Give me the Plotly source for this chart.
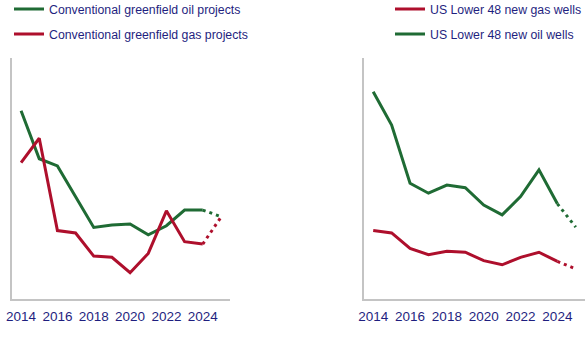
import plotly.graph_objects as go

# Index values by year (2025 = outlook, drawn dotted)
years = list(range(2014, 2025))
year_outlook = 2025

oil_projects = [78.1, 58.2, 55.2, 42.4, 29.7, 30.7, 31.1, 26.6, 30.4, 36.9, 36.9]
oil_projects_2025 = 34.2
gas_projects = [56.6, 66.7, 28.4, 27.4, 17.8, 17.3, 10.9, 18.9, 36.6, 23.8, 22.8]
gas_projects_2025 = 33.9

gas_wells = [28.4, 27.4, 21.0, 18.4, 19.8, 19.4, 15.9, 14.2, 17.3, 19.4, 15.6]
gas_wells_2025 = 12.5
oil_wells = [86.0, 72.2, 48.0, 43.9, 47.3, 46.2, 39.0, 34.9, 42.5, 53.6, 39.5]
oil_wells_2025 = 29.8

tick_years = [2014, 2016, 2018, 2020, 2022, 2024]

GREEN = "#1f6b34"
RED = "#ae0f2c"
NAVY = "#1f1f7f"
AXIS_GREY = "#c4c4c4"
FONT = "Liberation Sans, Arial, sans-serif"

fig = go.Figure()


def add_series(name, values, outlook, color, xa, ya, legend):
    fig.add_trace(go.Scatter(
        x=years, y=values, mode="lines", name=name,
        line=dict(color=color, width=3), xaxis=xa, yaxis=ya,
        legend=legend, legendgroup=name + xa,
    ))
    fig.add_trace(go.Scatter(
        x=[years[-1], year_outlook], y=[values[-1], outlook], mode="lines",
        line=dict(color=color, width=3, dash="3px,4px"), xaxis=xa, yaxis=ya,
        showlegend=False, legend=legend, legendgroup=name + xa,
    ))


add_series("Conventional greenfield oil projects", oil_projects, oil_projects_2025,
           GREEN, "x", "y", "legend")
add_series("Conventional greenfield gas projects", gas_projects, gas_projects_2025,
           RED, "x", "y", "legend")
add_series("US Lower 48 new gas wells", gas_wells, gas_wells_2025,
           RED, "x2", "y2", "legend2")
add_series("US Lower 48 new oil wells", oil_wells, oil_wells_2025,
           GREEN, "x2", "y2", "legend2")

W, H = 588, 338
y_dom = [1 - 299 / H, 1 - 58 / H]

xaxis_common = dict(
    range=[2013.5, 2025.5], tickmode="array", tickvals=tick_years,
    showgrid=False, zeroline=False, showline=True, linecolor=AXIS_GREY,
    linewidth=2, ticks="", tickfont=dict(size=13.5, color=NAVY, family=FONT),
    ticklabelstandoff=4,
)
yaxis_common = dict(
    range=[0, 100], showgrid=False, zeroline=False, showline=True,
    linecolor=AXIS_GREY, linewidth=2, showticklabels=False, ticks="",
    domain=y_dom,
)

legend_common = dict(
    xanchor="left", yanchor="top", bgcolor="rgba(0,0,0,0)",
    font=dict(size=12.3, color=NAVY, family=FONT),
    traceorder="grouped", tracegroupgap=6, itemwidth=30,
)

fig.update_layout(
    width=W, height=H,
    margin=dict(l=0, r=0, t=0, b=0, autoexpand=False),
    paper_bgcolor="white", plot_bgcolor="white",
    font=dict(family=FONT, color=NAVY),
    xaxis=dict(domain=[12 / W, 230 / W], anchor="y", **xaxis_common),
    yaxis=dict(anchor="x", **yaxis_common),
    xaxis2=dict(domain=[364 / W, 585 / W], anchor="y2", **xaxis_common),
    yaxis2=dict(anchor="x2", **yaxis_common),
    legend=dict(x=9 / W, y=1 + 5.5 / H, **legend_common),
    legend2=dict(x=390 / W, y=1 + 5.5 / H, **legend_common),
)

fig.write_html("out.html")
